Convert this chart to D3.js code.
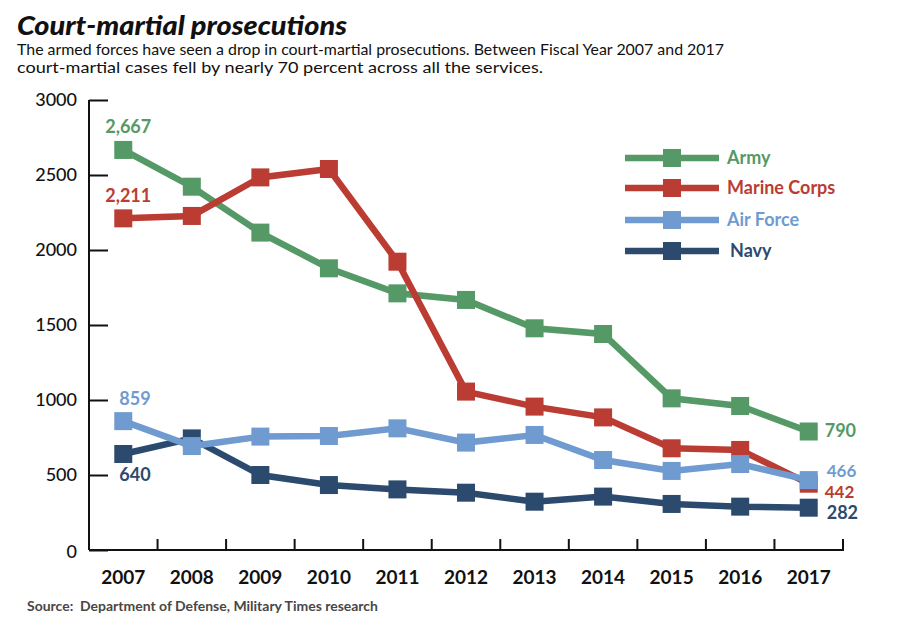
<!DOCTYPE html>
<html>
<head>
<meta charset="utf-8">
<script src="https://cdn.jsdelivr.net/npm/d3@7"></script>
<style>
  html, body { margin: 0; padding: 0; background: #fff; }
  svg { display: block; font-family: Lato, "Open Sans", sans-serif; }
</style>
</head>
<body>
<svg id="chart" width="906" height="632"></svg>
<script>
const years = ["2007","2008","2009","2010","2011","2012","2013","2014","2015","2016","2017"];
const army = [2667, 2422, 2116, 1878, 1711, 1667, 1478, 1440, 1011, 960, 790];
const marineCorps = [2211, 2227, 2484, 2540, 1922, 1056, 956, 884, 678, 667, 442];
const airForce = [859, 693, 756, 760, 811, 716, 767, 600, 527, 573, 466];
const navy = [640, 744, 500, 433, 404, 382, 322, 356, 307, 289, 282];
const yTicks = [0, 500, 1000, 1500, 2000, 2500, 3000];
const seriesNames = ["Army", "Marine Corps", "Air Force", "Navy"];

const colors = {
  "Army": "#559966",
  "Marine Corps": "#ba3c32",
  "Air Force": "#6f9bd0",
  "Navy": "#2c4a6e"
};

const series = [
  { name: "Army", values: army },
  { name: "Marine Corps", values: marineCorps },
  { name: "Navy", values: navy },
  { name: "Air Force", values: airForce }
];

const svg = d3.select("#chart");
const plotL = 89, plotR = 843, plotT = 100, plotB = 550;

const x = d3.scaleBand().domain(years).range([plotL, plotR]).paddingInner(0).paddingOuter(0);
const xc = d => x(d) + x.bandwidth() / 2;
const y = d3.scaleLinear().domain([0, 3000]).range([plotB, plotT]);

// Title & subtitle
svg.append("text").attr("x", 17).attr("y", 35)
  .attr("font-size", 27).attr("font-weight", 900).attr("font-style", "italic")
  .attr("textLength", 330).attr("lengthAdjust", "spacingAndGlyphs")
  .attr("fill", "#111").text("Court-martial prosecutions");
svg.append("text").attr("x", 17).attr("y", 55)
  .attr("font-size", 15).attr("fill", "#111")
  .attr("textLength", 707).attr("lengthAdjust", "spacingAndGlyphs")
  .text("The armed forces have seen a drop in court-martial prosecutions. Between Fiscal Year 2007 and 2017");
svg.append("text").attr("x", 17).attr("y", 73)
  .attr("font-size", 15).attr("fill", "#111")
  .attr("textLength", 526).attr("lengthAdjust", "spacingAndGlyphs")
  .text("court-martial cases fell by nearly 70 percent across all the services.");

// Y axis
const yAxis = d3.axisRight(y).tickValues(yTicks).tickSize(19).tickFormat("");
const gy = svg.append("g").attr("transform", `translate(${plotL},0)`).call(yAxis);
gy.select(".domain").attr("stroke", "#111").attr("stroke-width", 2).attr("d", `M0,${plotT}V${plotB}`);
gy.selectAll(".tick line").attr("stroke", "#111").attr("stroke-width", 2);
svg.append("g").selectAll("text").data(yTicks).join("text")
  .attr("x", 77).attr("y", d => y(d) + 6 + (d === 0 ? 2 : 0))
  .attr("text-anchor", "end").attr("font-size", 18).attr("font-weight", 500)
  .attr("fill", "#111").text(d => d);

// X axis
const xAxis = d3.axisTop(x).tickSize(0).tickFormat("");
const gx = svg.append("g").attr("transform", `translate(0,${plotB})`).call(xAxis);
gx.select(".domain").attr("stroke", "#111").attr("stroke-width", 2).attr("d", `M${plotL},0H${plotR}V-11`);
svg.append("g").selectAll("line").data(years.slice(1)).join("line")
  .attr("x1", d => x(d)).attr("x2", d => x(d))
  .attr("y1", plotB).attr("y2", plotB - 11)
  .attr("stroke", "#111").attr("stroke-width", 2);
svg.append("g").selectAll("text").data(years).join("text")
  .attr("x", d => xc(d)).attr("y", 584)
  .attr("text-anchor", "middle").attr("font-size", 19).attr("font-weight", 700)
  .attr("fill", "#111").text(d => d);

// Lines
const line = d3.line().x((d, i) => xc(years[i])).y(d => y(d));
const sq = 18;
series.forEach(s => {
  const g = svg.append("g");
  g.append("path").attr("d", line(s.values))
    .attr("fill", "none").attr("stroke", colors[s.name])
    .attr("stroke-width", 6.5).attr("stroke-linejoin", "miter");
  g.selectAll("rect").data(s.values).join("rect")
    .attr("x", (d, i) => xc(years[i]) - sq / 2)
    .attr("y", d => y(d) - sq / 2)
    .attr("width", sq).attr("height", sq)
    .attr("fill", colors[s.name]);
});

// Value labels
const fmt = d3.format(",");
const labels = [
  { name: "Army", i: 0, dx: -18, dy: -17, fs: 18 },
  { name: "Marine Corps", i: 0, dx: -18, dy: -16, fs: 18 },
  { name: "Air Force", i: 0, dx: -4, dy: -16, fs: 18 },
  { name: "Navy", i: 0, dx: -4, dy: 27, fs: 18 },
  { name: "Army", i: 10, dx: 16, dy: 5, fs: 18 },
  { name: "Air Force", i: 10, dx: 18, dy: -3, fs: 17 },
  { name: "Marine Corps", i: 10, dx: 16, dy: 14, fs: 17 },
  { name: "Navy", i: 10, dx: 18, dy: 11, fs: 18 }
];
const valuesOf = { "Army": army, "Marine Corps": marineCorps, "Air Force": airForce, "Navy": navy };
svg.append("g").selectAll("text").data(labels).join("text")
  .attr("x", d => xc(years[d.i]) + d.dx)
  .attr("y", d => y(valuesOf[d.name][d.i]) + d.dy)
  .attr("font-size", d => d.fs).attr("font-weight", 700)
  .attr("fill", d => colors[d.name])
  .text(d => fmt(valuesOf[d.name][d.i]));

// Legend
const lg = svg.append("g");
const legendY = [158, 188, 220, 251];
seriesNames.forEach((n, k) => {
  const yy = legendY[k];
  lg.append("line").attr("x1", 625).attr("x2", 719).attr("y1", yy).attr("y2", yy)
    .attr("stroke", colors[n]).attr("stroke-width", 6.5);
  lg.append("rect").attr("x", 672 - sq / 2).attr("y", yy - sq / 2)
    .attr("width", sq).attr("height", sq).attr("fill", colors[n]);
  lg.append("text").attr("x", n === "Navy" ? 730 : 727).attr("y", yy + 6)
    .attr("font-size", 18).attr("font-weight", 700)
    .attr("fill", colors[n]).text(n);
});

// Source
svg.append("text").attr("x", 27).attr("y", 611)
  .attr("font-size", 14).attr("font-weight", 700).attr("fill", "#4a4646")
  .attr("xml:space", "preserve")
  .attr("textLength", 351).attr("lengthAdjust", "spacingAndGlyphs")
  .text("Source:  Department of Defense, Military Times research");
</script>
</body>
</html>
